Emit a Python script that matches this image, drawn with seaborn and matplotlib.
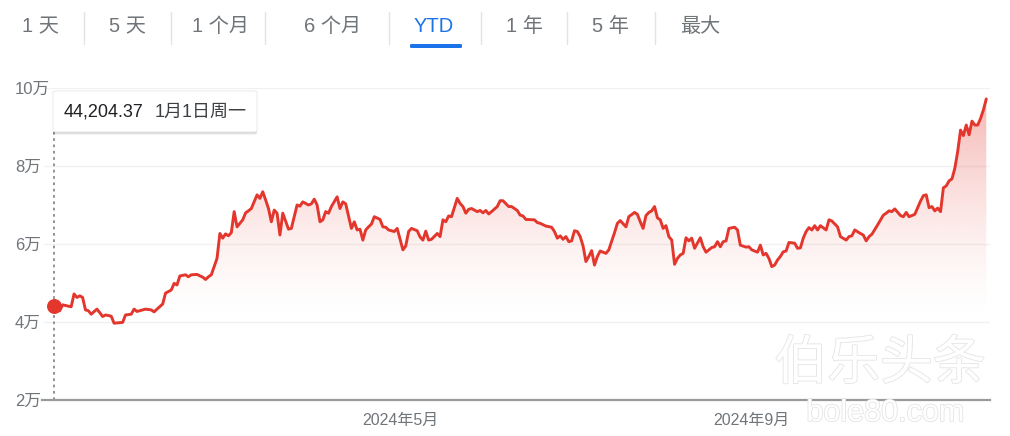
import numpy as np
import pandas as pd
import matplotlib
import matplotlib.pyplot as plt
import matplotlib.dates as mdates
import matplotlib.patheffects as pe
from matplotlib.patches import FancyBboxPatch
import seaborn as sns

# jours depuis le 1er janvier 2024 et prix (en milliers)
days = [0, 2, 3, 6, 7, 8, 9, 10, 11, 12, 13, 15, 16, 17, 18, 20, 21, 24, 25, 27,
        28, 29, 32, 34, 35, 36, 38, 39, 41, 42, 43, 44, 46, 47, 48, 50, 52, 53, 54, 55,
        57, 58, 59, 60, 61, 62, 63, 64, 66, 67, 68, 69, 71, 72, 73, 74, 75, 76, 77, 78,
        79, 80, 82, 83, 85, 86, 87, 89, 90, 91, 92, 93, 94, 95, 96, 97, 99, 100, 101, 102,
        104, 105, 106, 107, 108, 109, 110, 111, 112, 114, 115, 116, 117, 119, 120, 122, 123, 124, 125, 127,
        128, 129, 130, 131, 132, 134, 135, 136, 137, 138, 139, 141, 142, 143, 144, 145, 146, 148, 149, 150,
        151, 152, 153, 155, 156, 157, 159, 160, 162, 163, 164, 165, 168, 169, 170, 172, 174, 175, 176, 177,
        178, 179, 180, 181, 182, 183, 184, 185, 186, 187, 188, 189, 190, 191, 193, 194, 196, 197, 198, 200,
        201, 203, 204, 205, 206, 207, 208, 209, 210, 211, 212, 213, 214, 215, 216, 217, 218, 219, 220, 221,
        222, 223, 224, 226, 227, 228, 230, 231, 232, 233, 234, 235, 236, 238, 239, 240, 242, 243, 244, 246,
        247, 248, 249, 250, 251, 252, 253, 254, 255, 256, 257, 259, 260, 261, 262, 263, 264, 265, 266, 267,
        268, 270, 271, 272, 274, 275, 277, 278, 279, 280, 282, 283, 284, 285, 286, 288, 290, 291, 292, 293,
        294, 296, 297, 298, 299, 301, 303, 304, 305, 306, 307, 308, 309, 310, 311, 312, 313, 314, 315, 316,
        317, 318, 319, 320, 321, 322, 323, 324, 325, 326]
price_k = [44.2, 42.9, 44.4, 43.9, 47.2, 46.3, 46.7, 46.3, 43.1, 42.9, 42.0, 43.3, 42.4, 41.4, 41.8, 41.5, 39.7, 39.9, 41.8, 42.0,
           43.3, 42.7, 43.3, 43.1, 42.6, 43.3, 44.6, 47.4, 48.2, 49.9, 49.5, 51.8, 52.1, 51.6, 52.1, 52.2, 51.5, 50.9, 51.6, 52.1,
           56.3, 62.7, 61.5, 62.6, 62.1, 62.9, 68.3, 64.4, 66.2, 68.0, 68.5, 69.1, 72.6, 71.7, 73.4, 71.3, 69.1, 65.7, 68.7, 67.9,
           62.3, 67.9, 63.8, 64.0, 70.0, 69.7, 70.8, 70.0, 70.3, 71.5, 70.0, 65.7, 66.2, 68.3, 67.9, 69.6, 72.1, 69.1, 70.8, 70.3,
           64.0, 65.7, 63.6, 63.8, 61.0, 63.6, 64.4, 65.1, 67.0, 66.3, 64.4, 64.3, 63.6, 63.2, 64.0, 58.5, 59.5, 63.2, 64.0, 63.4,
           61.8, 61.0, 63.3, 61.0, 61.2, 62.7, 61.9, 66.2, 65.7, 67.2, 67.0, 71.7, 70.4, 69.6, 67.9, 68.9, 69.1, 68.3, 68.6, 68.0,
           68.6, 67.7, 68.3, 69.6, 71.1, 71.1, 69.6, 69.6, 68.6, 67.4, 67.2, 66.3, 66.2, 65.5, 65.3, 64.6, 64.3, 63.2, 61.5, 62.1,
           61.2, 61.9, 60.6, 60.8, 63.4, 63.2, 61.9, 59.5, 55.5, 56.8, 58.3, 54.6, 56.8, 58.2, 57.6, 58.5, 62.9, 65.3, 66.0, 64.4,
           67.0, 68.1, 67.6, 65.7, 64.0, 67.3, 68.1, 68.5, 69.6, 66.7, 66.2, 64.0, 64.7, 61.9, 61.0, 54.8, 56.3, 57.2, 57.6, 61.6,
           60.8, 61.5, 58.9, 61.6, 59.3, 57.9, 59.1, 59.3, 60.6, 59.3, 60.6, 60.8, 64.0, 64.3, 63.6, 59.7, 59.2, 59.3, 58.5, 57.9,
           59.7, 57.2, 57.6, 56.3, 54.2, 54.6, 55.9, 56.8, 58.0, 58.2, 60.4, 60.2, 58.9, 59.0, 61.5, 63.2, 64.2, 63.6, 64.7, 63.6,
           64.7, 63.6, 66.2, 65.9, 64.4, 61.9, 61.0, 61.9, 62.1, 63.6, 62.7, 62.3, 60.8, 61.9, 62.5, 64.9, 67.4, 67.9, 68.5, 68.3,
           69.0, 67.3, 67.0, 68.1, 67.0, 67.6, 71.0, 72.4, 72.6, 69.3, 69.6, 68.5, 69.2, 68.3, 74.4, 74.9, 76.2, 76.7, 79.4, 83.7,
           89.2, 87.8, 90.5, 88.0, 91.5, 90.5, 90.5, 92.2, 94.4, 97.2]

yticks = [20000, 40000, 60000, 80000, 100000]
ytick_labels = ["2万", "4万", "6万", "8万", "10万"]
xticks = ["2024-05-01", "2024-09-01"]
xtick_labels = ["2024年5月", "2024年9月"]
tabs = ["1 天", "5 天", "1 个月", "6 个月", "YTD", "1 年", "5 年", "最大"]
tab_x = [40, 127, 220, 333, 434, 524, 610, 700]
sep_x = [84, 171, 265, 389, 481, 567, 655]

df = pd.DataFrame({
    "date": pd.Timestamp("2024-01-01") + pd.to_timedelta(days, unit="D"),
    "price": np.array(price_k) * 1000,
})

sns.set_style("white")
plt.rcParams['font.family'] = ['Liberation Sans', 'Noto Sans CJK SC', 'DejaVu Sans']

W, H = 1010, 436
fig = plt.figure(figsize=(W / 100, H / 100), dpi=100)
def px(x, y):
    return x / W, 1 - y / H

ax = fig.add_axes([44 / W, 1 - 400 / H, 946 / W, 312 / H])
red = "#e3362d"
grey = "#70757a"

d0 = mdates.date2num(pd.Timestamp("2024-01-01"))
x_left = d0 - 3.5
x_right = d0 + 327.3

for v in yticks[1:]:
    ax.axhline(v, color="#f1f1f1", lw=1.0, zorder=0)

# remplissage en degrade sous la courbe
poly = ax.fill_between(df["date"], df["price"], 20000, color="none", lw=0)
vals = np.linspace(20000, 100000, 256)
alpha = 0.38 * np.clip((vals - 40000) / 60000, 0, 1) ** 1.5
rgba = np.zeros((256, 1, 4))
rgba[:, 0, :3] = matplotlib.colors.to_rgb(red)
rgba[:, 0, 3] = alpha
im = ax.imshow(rgba, extent=[x_left, x_right, 20000, 100000], origin="lower",
               aspect="auto", zorder=1)
im.set_clip_path(poly.get_paths()[0], transform=ax.transData)

sns.lineplot(data=df, x="date", y="price", color=red, lw=2.1, ax=ax, zorder=3)
ax.scatter([df["date"][0]], [df["price"][0]], s=95, color=red, zorder=4, clip_on=False)

# ligne pointillee sous l'infobulle
ax.vlines(df["date"][0], 20000, 100000 - (132 - 88) / 78 * 20000, color="#8a8a8a",
          lw=1.3, linestyles=(0, (1.5, 2)), zorder=2)

ax.set_xlim(x_left, x_right)
ax.set_ylim(20000, 100000)
ax.set_yticks(yticks)
ax.set_yticklabels(ytick_labels)
ax.set_xticks(pd.to_datetime(xticks))
ax.set_xticklabels(xtick_labels)
ax.set_xlabel("")
ax.set_ylabel("")
ax.tick_params(axis="y", length=0, pad=21, labelsize=12, labelcolor=grey)
for lab in ax.get_yticklabels():
    lab.set_horizontalalignment("left")
ax.tick_params(axis="x", length=6, width=1.2, color="#8a8a8a", pad=3,
               labelsize=11.5, labelcolor=grey)
for s in ["top", "right", "left"]:
    ax.spines[s].set_visible(False)
ax.spines["bottom"].set_color("#9a9a9a")
ax.spines["bottom"].set_linewidth(1.6)
ax.spines["bottom"].set_bounds(d0 - 4.2, x_right)

# infobulle
for off, a in [(3, 0.05), (2, 0.06), (1, 0.08)]:
    fig.add_artist(FancyBboxPatch(px(53, 132 + off), 204 / W, (41 + off) / H,
                                  boxstyle="round,pad=0,rounding_size=0.003",
                                  transform=fig.transFigure, fc="black", ec="none",
                                  alpha=a, zorder=5))
fig.add_artist(FancyBboxPatch(px(53, 132), 204 / W, 41 / H,
                              boxstyle="round,pad=0,rounding_size=0.003",
                              transform=fig.transFigure, fc="white", ec="#e6e6e6",
                              lw=0.6, zorder=6))
fig.text(*px(64, 112), "44,204.37", fontsize=13, color="#202124", va="center", zorder=7)
fig.text(*px(155, 112), "1月1日周一", fontsize=13, color="#3c4043", va="center", zorder=7)

# onglets
for t, x in zip(tabs, tab_x):
    fig.text(*px(x, 27), t, fontsize=14.5, ha="center", va="center",
             color="#1a73e8" if t == "YTD" else grey)
for x in sep_x:
    fig.add_artist(plt.Line2D([x / W, x / W], [1 - 12 / H, 1 - 44 / H],
                              color="#e3e3e3", lw=1, transform=fig.transFigure))
fig.add_artist(FancyBboxPatch(px(410, 48), 52 / W, 4 / H,
                              boxstyle="round,pad=0,rounding_size=0.002",
                              transform=fig.transFigure, fc="#1a73e8", ec="none"))

# filigrane
wm = [pe.withStroke(linewidth=1.2, foreground="#e4e4e4")]
fig.text(*px(880, 365), "伯乐头条", fontsize=38, color="white", ha="center",
         va="center", path_effects=wm, zorder=8)
fig.text(*px(885, 413), "bole80.com", fontsize=22, color="white", ha="center",
         va="center", path_effects=wm, zorder=8)

fig.savefig("out.png", dpi=100)
